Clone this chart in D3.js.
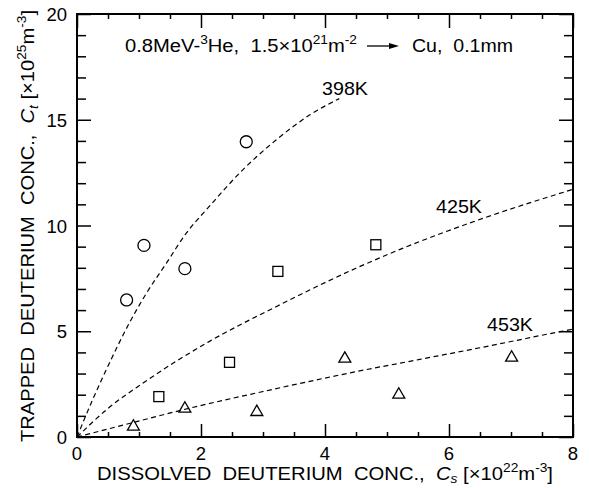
<!DOCTYPE html>
<html><head><meta charset="utf-8">
<script src="https://cdn.jsdelivr.net/npm/d3@7"></script>
<style>
html,body{margin:0;padding:0;background:#fff;}
svg text{font-family:"Liberation Sans",Arial,Helvetica,sans-serif;fill:#000;white-space:pre;}
</style></head>
<body><svg id="c" width="589" height="488"></svg>
<script>
// ---- data ----
const x398 = [0.80, 1.08, 1.74, 2.73];
const y398 = [6.48, 9.06, 7.96, 13.96];
const x425 = [1.32, 2.46, 3.24, 4.82];
const y425 = [1.91, 3.53, 7.83, 9.09];
const x453 = [0.91, 1.74, 2.90, 4.32, 5.19, 7.01];
const y453 = [0.49, 1.34, 1.18, 3.70, 2.00, 3.75];
// fitted dashed curves
const fit398x = [0, 0.25, 0.52, 0.84, 1.11, 1.44, 1.76, 2.13, 2.67, 3.21, 3.75, 4.23];
const fit398y = [0, 1.75, 3.48, 5.37, 6.75, 8.21, 9.63, 10.89, 12.62, 14.04, 15.22, 16.0];
const fit425x = [0, 0.5, 1.06, 2.13, 3.21, 4.5, 5.21, 6.55, 8];
const fit425y = [0, 1.35, 2.54, 4.51, 6.16, 7.98, 8.87, 10.34, 11.71];
const fit453x = [0, 0.9, 1.7, 3.11, 4.5, 5.53, 6.5, 7.79, 8];
const fit453y = [0, 0.68, 1.28, 2.22, 3.09, 3.67, 4.22, 4.98, 5.10];
const curveLabels = ["398K", "425K", "453K"];
const xTicks = [0, 2, 4, 6, 8];
const yTicks = [0, 5, 10, 15, 20];

// ---- layout ----
const svg = d3.select("#c");
const L = 77, T = 14, W = 496, H = 423;
const x = d3.scaleLinear().domain([0, 8]).range([L, L + W]);
const y = d3.scaleLinear().domain([0, 20]).range([T + H, T]);
const g = svg.append("g");

// curves
const line = d3.line().x(d => x(d[0])).y(d => y(d[1])).curve(d3.curveMonotoneX);
[[fit398x, fit398y], [fit425x, fit425y], [fit453x, fit453y]].forEach(([xs, ys]) => {
  g.append("path").attr("d", line(xs.map((v, i) => [v, ys[i]])))
    .attr("fill", "none").attr("stroke", "#000").attr("stroke-width", 1.2)
    .attr("stroke-dasharray", "5,3.5");
});

// markers
x398.forEach((v, i) => g.append("circle").attr("cx", x(v)).attr("cy", y(y398[i])).attr("r", 6)
  .attr("fill", "none").attr("stroke", "#000").attr("stroke-width", 1.3));
x425.forEach((v, i) => g.append("rect").attr("x", x(v) - 5).attr("y", y(y425[i]) - 5)
  .attr("width", 10).attr("height", 10)
  .attr("fill", "none").attr("stroke", "#000").attr("stroke-width", 1.3));
const tri = d3.symbol().type(d3.symbolTriangle).size(62);
x453.forEach((v, i) => g.append("path").attr("d", tri())
  .attr("transform", `translate(${x(v)},${y(y453[i])})`)
  .attr("fill", "none").attr("stroke", "#000").attr("stroke-width", 1.3));

// frame
svg.append("rect").attr("x", L).attr("y", T).attr("width", W).attr("height", H)
  .attr("fill", "none").attr("stroke", "#000").attr("stroke-width", 2);

// axes with inward ticks
function tickAxis(axisGen, tx, ty) {
  const a = svg.append("g").attr("transform", `translate(${tx},${ty})`).call(axisGen);
  a.select(".domain").remove();
  a.selectAll("line").attr("stroke", "#000").attr("stroke-width", 1.5);
  return a;
}
const xMajor = xTicks, xMinor = d3.range(0, 8.01, 0.5).filter(v => v % 2 !== 0);
const yMinor = d3.range(0, 20.01, 1).filter(v => v % 5 !== 0);
tickAxis(d3.axisTop(x).tickValues(xMajor).tickSize(13).tickFormat(""), 0, T + H);
tickAxis(d3.axisTop(x).tickValues(xMinor).tickSize(5).tickFormat(""), 0, T + H);
tickAxis(d3.axisBottom(x).tickValues(xMajor).tickSize(14).tickFormat(""), 0, T);
tickAxis(d3.axisBottom(x).tickValues(xMinor).tickSize(5).tickFormat(""), 0, T);
tickAxis(d3.axisRight(y).tickValues(yTicks).tickSize(14).tickFormat(""), L, 0);
tickAxis(d3.axisRight(y).tickValues(yMinor).tickSize(9).tickFormat(""), L, 0);
tickAxis(d3.axisLeft(y).tickValues(yTicks).tickSize(14).tickFormat(""), L + W, 0);
tickAxis(d3.axisLeft(y).tickValues(yMinor).tickSize(9).tickFormat(""), L + W, 0);

// tick labels
xTicks.forEach(v => svg.append("text").attr("x", x(v)).attr("y", 460)
  .attr("text-anchor", "middle").attr("font-size", 18.5).attr("textLength", 11).text(v));
yTicks.forEach(v => svg.append("text").attr("x", 67).attr("y", y(v) + 7)
  .attr("text-anchor", "end").attr("font-size", 18.5).text(v));

// rich text helper
function rich(sel, parts, fs) {
  let shift = 0;
  parts.forEach(p => {
    const ts = sel.append("tspan").text(p.t);
    const target = p.sup ? -fs * 0.42 : p.sub ? fs * 0.22 : 0;
    if (target - shift !== 0) ts.attr("dy", target - shift);
    shift = target;
    if (p.sup || p.sub) ts.attr("font-size", fs * 0.68);
    if (p.it) ts.attr("font-style", "italic");
  });
}

// axis titles
const xt = svg.append("text").attr("x", 97).attr("y", 479.5).attr("font-size", 17.5)
  .attr("textLength", 456).attr("lengthAdjust", "spacingAndGlyphs");
rich(xt, [{t: "DISSOLVED  DEUTERIUM  CONC.,  "}, {t: "C", it: 1}, {t: "s", it: 1, sub: 1},
  {t: " [×10"}, {t: "22", sup: 1}, {t: "m"}, {t: "-3", sup: 1}, {t: "]"}], 17.5);
const yt = svg.append("text").attr("transform", "translate(34,442) rotate(-90)").attr("font-size", 18)
  .attr("textLength", 432).attr("lengthAdjust", "spacingAndGlyphs");
rich(yt, [{t: "TRAPPED  DEUTERIUM  CONC.,  "}, {t: "C", it: 1}, {t: "t", it: 1, sub: 1},
  {t: " [×10"}, {t: "25", sup: 1}, {t: "m"}, {t: "-3", sup: 1}, {t: "]"}], 18);

// annotation
const an = svg.append("text").attr("x", 125).attr("y", 52).attr("font-size", 18)
  .attr("textLength", 232).attr("lengthAdjust", "spacingAndGlyphs");
rich(an, [{t: "0.8MeV-"}, {t: "3", sup: 1}, {t: "He,  1.5×10"}, {t: "21", sup: 1}, {t: "m"}, {t: "-2", sup: 1}], 18);
svg.append("line").attr("x1", 367).attr("x2", 392).attr("y1", 46).attr("y2", 46)
  .attr("stroke", "#000").attr("stroke-width", 1.3);
svg.append("path").attr("d", "M389,43 L399,46 L389,49 Z").attr("fill", "#000");
svg.append("text").attr("x", 412).attr("y", 52).attr("font-size", 18)
  .attr("textLength", 101).attr("lengthAdjust", "spacingAndGlyphs").text("Cu,  0.1mm");

// curve labels
const labPos = [[322, 95], [436, 213], [487, 331]];
curveLabels.forEach((t, i) => svg.append("text").attr("x", labPos[i][0]).attr("y", labPos[i][1])
  .attr("font-size", 19).attr("textLength", 46).attr("lengthAdjust", "spacingAndGlyphs").text(t));
</script></body></html>
